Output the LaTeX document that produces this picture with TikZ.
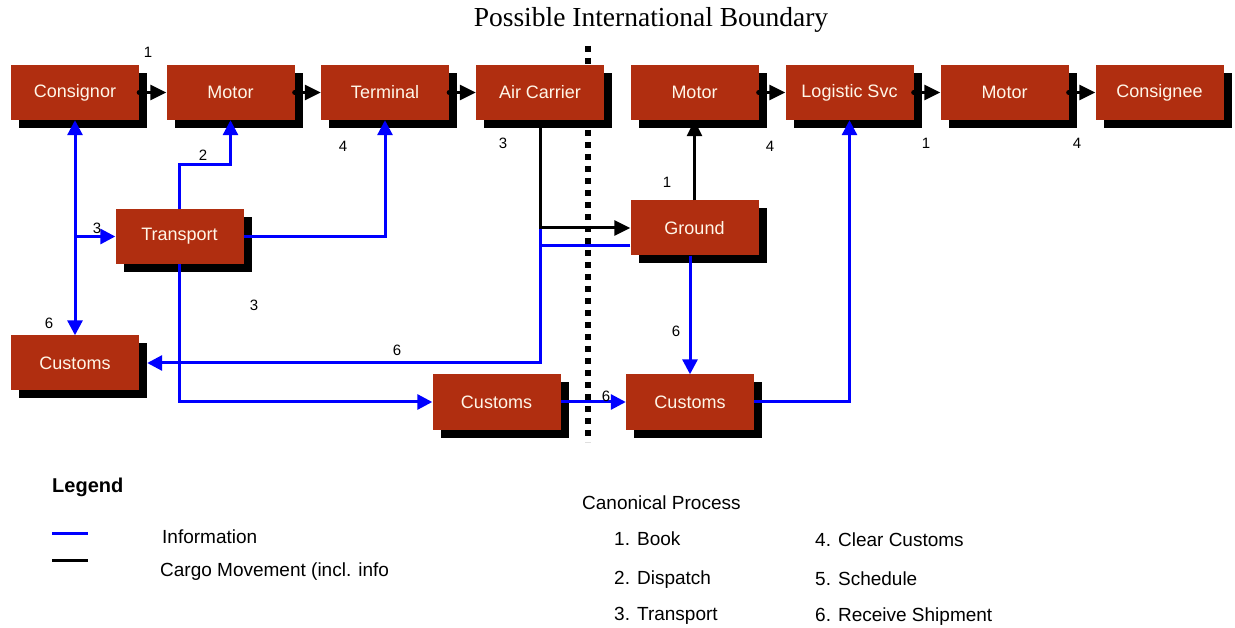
\documentclass[tikz,border=0pt]{standalone}
\usepackage{fontspec}
\setmainfont{Liberation Sans}
\newfontfamily\titlefont{Liberation Serif}
\usetikzlibrary{shadows,arrows.meta}
\definecolor{boxred}{RGB}{176,46,16}
\definecolor{boxtext}{RGB}{255,246,232}
\definecolor{infoblue}{RGB}{0,0,255}
\tikzset{
  box/.style={draw=none, fill=boxred, text=boxtext, minimum width=128pt, minimum height=55pt, inner sep=0pt,
    font=\fontsize{18}{20}\selectfont,
    drop shadow={shadow xshift=8pt, shadow yshift=-8pt, fill=black, opacity=1}},
  info/.style={draw=infoblue, line width=3pt, -{Triangle[length=15pt,width=15pt]}},
  cargo/.style={draw=black, line width=3pt, -{Triangle[length=16pt,width=15pt]}},
  num/.style={font=\fontsize{15}{17}\selectfont, inner sep=0pt},
  legtext/.style={font=\fontsize{19}{21}\selectfont, anchor=base west, inner sep=0pt},
  boundary/.style={line width=6pt, dash pattern=on 6pt off 6pt}
}
\begin{document}
\begin{tikzpicture}[x=1pt,y=-1pt]
\useasboundingbox (0,0) rectangle (1235,628);
% title
\node[font=\titlefont\fontsize{27.5}{30}\selectfont, anchor=base, inner sep=0pt] (title) at (651,27) {Possible International Boundary};
% boundary
\coordinate (bTop) at (588,46);
\coordinate (bBot) at (588,442);
\draw[boundary] (bTop) -- (bBot);
% boxes
\node[box] (cons) at (75,92.5) {Consignor};
\node[box] (mot1) at (230.5,92.5) {Motor};
\node[box] (term) at (385,92.5) {Terminal};
\node[box] (air) at (540,92.5) {Air Carrier};
\node[box] (mot2) at (694.5,92.5) {Motor};
\node[box] (logi) at (849.5,92.5) {Logistic Svc};
\node[box] (mot3) at (1004.5,92.5) {Motor};
\node[box] (cnee) at (1159.5,92.5) {Consignee};
\node[box] (trans) at (179.5,236.5) {Transport};
\node[box] (grnd) at (694.5,228) {Ground};
\node[box] (custL) at (75,363) {Customs};
\node[box] (custM) at (496.5,402) {Customs};
\node[box] (custR) at (690,402) {Customs};
% top-row cargo arrows
\foreach \a/\b in {cons/mot1, mot1/term, term/air, mot2/logi, logi/mot3, mot3/cnee}{
  \fill (\a.east) circle (2.5pt);
  \draw[cargo] (\a.east) -- (\b.west);
}
% cargo
\draw[cargo] (air.south) |- (grnd.west);
\draw[cargo] (grnd.north) -- (mot2.south);
% information
\draw[info, {Triangle[length=15pt,width=15pt]}-{Triangle[length=15pt,width=15pt]}] (cons.south) -- (custL.north);
\draw[info] (cons.south |- trans.west) -- (trans.west);
\draw[info] (trans.north) -- (trans.north |- 0,165) -| (mot1.south);
\draw[info] (trans.east) -| (term.south);
\draw[info] (trans.south) |- (custM.west);
\draw[info, -] (grnd.west |- 0,246) -- (air.south |- 0,246);
\draw[info] (air.south |- 0,229.5) |- ([xshift=8pt]custL.east);
\draw[info] (custR.north |- grnd.south) -- (custR.north);
\draw[info] (custM.east) -- (custR.west);
\draw[info] (custR.east) -| (logi.south);
% step numbers
\node[num] (n1) at (148,52) {1};
\node[num] (n2) at (203,155) {2};
\node[num] (n3) at (343,146) {4};
\node[num] (n4) at (503,143) {3};
\node[num] (n5) at (770,146) {4};
\node[num] (n6) at (926,143) {1};
\node[num] (n7) at (1077,143) {4};
\node[num] (n8) at (667,182) {1};
\node[num] (n9) at (97,228) {3};
\node[num] (n10) at (254,305) {3};
\node[num] (n11) at (49,323) {6};
\node[num] (n12) at (397,350) {6};
\node[num] (n13) at (676,331) {6};
\node[num] (n14) at (606,396) {6};
% legend
\node[legtext, font=\bfseries\fontsize{20}{22}\selectfont] (leg) at (52,492) {Legend};
\coordinate (lb1) at (52,533); \coordinate (lb2) at (88,533);
\coordinate (lk1) at (52,560); \coordinate (lk2) at (88,560);
\draw[draw=infoblue, line width=3pt] (lb1) -- (lb2);
\draw[draw=black, line width=3pt] (lk1) -- (lk2);
\node[legtext] (linfo) at (162,543) {Information};
\node[legtext] (lcargo) at (160,576) {Cargo Movement (incl. info};
\node[legtext] (canon) at (582,509) {Canonical Process};
\node[legtext] (p1) at (614,545) {1. Book};
\node[legtext] (p2) at (614,584) {2. Dispatch};
\node[legtext] (p3) at (614,620) {3. Transport};
\node[legtext] (p4) at (815,546) {4. Clear Customs};
\node[legtext] (p5) at (815,585) {5. Schedule};
\node[legtext] (p6) at (815,621) {6. Receive Shipment};
\end{tikzpicture}
\end{document}
